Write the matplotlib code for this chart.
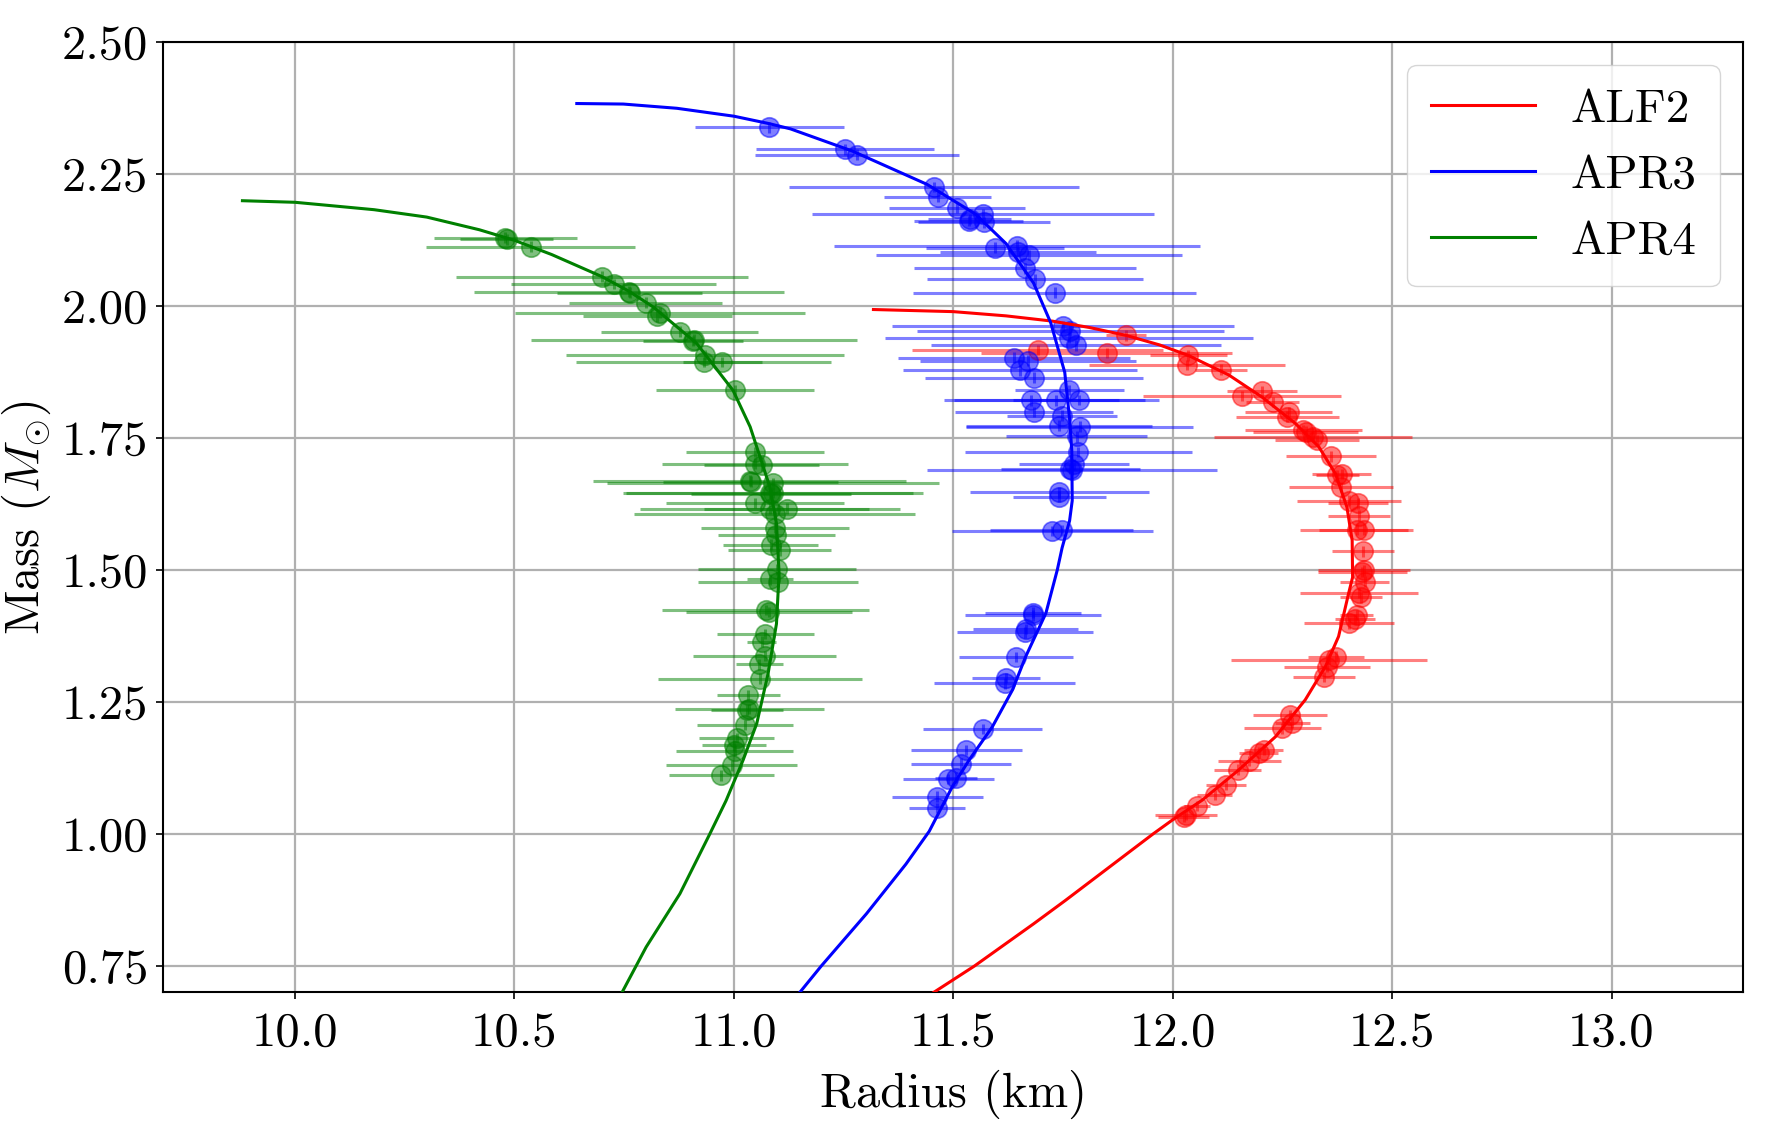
import numpy as np
import matplotlib
matplotlib.use("Agg")
import matplotlib.pyplot as plt

plt.rcParams['font.family'] = 'cmr10'
plt.rcParams['mathtext.fontset'] = 'cm'
plt.rcParams['axes.formatter.use_mathtext'] = True

# mass-radius curves
alf2_r = [11.318, 11.50, 11.62, 11.726, 11.81, 11.894, 11.97, 12.036, 12.128, 12.204, 12.28, 12.333, 12.371,
          12.397, 12.409, 12.410, 12.401, 12.378, 12.348, 12.302, 12.234, 12.150, 12.067, 12.000, 11.955,
          11.855, 11.755, 11.683, 11.548, 11.455]
alf2_m = [1.993, 1.989, 1.981, 1.971, 1.959, 1.944, 1.926, 1.906, 1.869, 1.827, 1.777, 1.733, 1.682,
          1.619, 1.556, 1.486, 1.456, 1.374, 1.317, 1.254, 1.184, 1.121, 1.064, 1.027, 1.000,
          0.937, 0.874, 0.830, 0.750, 0.700]

apr3_r = [10.642, 10.748, 10.870, 11.0, 11.08, 11.129, 11.27, 11.44, 11.55, 11.62, 11.683, 11.722, 11.754,
          11.765, 11.770, 11.771, 11.765, 11.748, 11.737, 11.711, 11.665, 11.635, 11.589, 11.536, 11.498,
          11.445, 11.392, 11.302, 11.226, 11.199, 11.150]
apr3_m = [2.383, 2.382, 2.374, 2.359, 2.345, 2.335, 2.293, 2.230, 2.174, 2.118, 2.043, 1.968, 1.874,
          1.786, 1.726, 1.631, 1.593, 1.542, 1.500, 1.418, 1.336, 1.273, 1.203, 1.140, 1.090,
          1.005, 0.943, 0.849, 0.776, 0.750, 0.700]

apr4_r = [9.88, 10.0, 10.18, 10.30, 10.42, 10.50, 10.585, 10.70, 10.76, 10.816, 10.915, 10.998, 11.037,
          11.082, 11.097, 11.103, 11.097, 11.078, 11.052, 11.021, 10.982, 10.945, 10.877, 10.800, 10.777,
          10.745]
apr4_m = [2.199, 2.196, 2.182, 2.168, 2.144, 2.124, 2.097, 2.055, 2.028, 1.998, 1.929, 1.840, 1.771,
          1.657, 1.588, 1.493, 1.398, 1.304, 1.209, 1.140, 1.063, 1.000, 0.887, 0.786, 0.750,
          0.700]

# simulated measurements (radius, mass, radius error)
alf2_pts = [
    (11.693, 1.916, 0.286), (11.850, 1.911, 0.286), (11.894, 1.944, 0.045), (12.036, 1.906, 0.088),
    (12.033, 1.888, 0.223), (12.110, 1.879, 0.060), (12.158, 1.829, 0.225), (12.204, 1.838, 0.080),
    (12.228, 1.818, 0.060), (12.264, 1.799, 0.099), (12.261, 1.790, 0.117), (12.298, 1.765, 0.133),
    (12.303, 1.762, 0.120), (12.320, 1.752, 0.225), (12.328, 1.746, 0.096), (12.361, 1.715, 0.102),
    (12.385, 1.682, 0.067), (12.375, 1.679, 0.049), (12.383, 1.657, 0.119), (12.402, 1.631, 0.118),
    (12.422, 1.626, 0.069), (12.425, 1.603, 0.070), (12.419, 1.576, 0.128), (12.435, 1.576, 0.101),
    (12.434, 1.535, 0.071), (12.436, 1.499, 0.104), (12.432, 1.496, 0.101), (12.438, 1.478, 0.056),
    (12.424, 1.456, 0.135), (12.430, 1.448, 0.048), (12.419, 1.415, 0.038), (12.416, 1.407, 0.046),
    (12.402, 1.399, 0.102), (12.372, 1.336, 0.063), (12.356, 1.330, 0.223), (12.351, 1.317, 0.098),
    (12.345, 1.297, 0.071), (12.267, 1.225, 0.084), (12.272, 1.211, 0.040), (12.250, 1.200, 0.087),
    (12.207, 1.160, 0.045), (12.196, 1.154, 0.044), (12.175, 1.138, 0.071), (12.148, 1.122, 0.054),
    (12.122, 1.093, 0.045), (12.096, 1.074, 0.040), (12.055, 1.053, 0.030), (12.030, 1.036, 0.070),
    (12.025, 1.033, 0.058),
]

apr3_pts = [
    (11.081, 2.338, 0.169), (11.254, 2.296, 0.203), (11.280, 2.286, 0.232), (11.456, 2.225, 0.330),
    (11.465, 2.206, 0.122), (11.508, 2.185, 0.155), (11.568, 2.174, 0.389), (11.535, 2.161, 0.124),
    (11.537, 2.164, 0.095), (11.570, 2.158, 0.151), (11.595, 2.110, 0.157), (11.645, 2.114, 0.417),
    (11.672, 2.096, 0.349), (11.648, 2.102, 0.178), (11.664, 2.071, 0.253), (11.686, 2.050, 0.246),
    (11.731, 2.025, 0.322), (11.750, 1.961, 0.390), (11.767, 1.953, 0.350), (11.764, 1.940, 0.420),
    (11.780, 1.925, 0.330), (11.638, 1.902, 0.265), (11.670, 1.896, 0.246), (11.652, 1.878, 0.267),
    (11.684, 1.864, 0.248), (11.764, 1.841, 0.124), (11.678, 1.821, 0.200), (11.735, 1.821, 0.233),
    (11.786, 1.822, 0.150), (11.684, 1.799, 0.180), (11.748, 1.792, 0.126), (11.741, 1.773, 0.212),
    (11.788, 1.771, 0.258), (11.781, 1.753, 0.161), (11.785, 1.723, 0.259), (11.775, 1.700, 0.126),
    (11.767, 1.691, 0.159), (11.770, 1.689, 0.330), (11.742, 1.647, 0.205), (11.742, 1.639, 0.107),
    (11.726, 1.574, 0.230), (11.747, 1.575, 0.163), (11.682, 1.419, 0.109), (11.682, 1.414, 0.155),
    (11.665, 1.388, 0.119), (11.664, 1.382, 0.155), (11.643, 1.335, 0.130), (11.620, 1.295, 0.078),
    (11.617, 1.285, 0.160), (11.567, 1.199, 0.136), (11.530, 1.159, 0.127), (11.518, 1.133, 0.114),
    (11.507, 1.107, 0.048), (11.489, 1.104, 0.104), (11.464, 1.071, 0.103), (11.462, 1.049, 0.064),
]

apr4_pts = [
    (10.479, 2.129, 0.163), (10.482, 2.126, 0.106), (10.537, 2.112, 0.238), (10.700, 2.055, 0.333),
    (10.726, 2.041, 0.233), (10.761, 2.027, 0.353), (10.763, 2.025, 0.165), (10.799, 2.006, 0.175),
    (10.831, 1.987, 0.330), (10.825, 1.980, 0.170), (10.877, 1.951, 0.179), (10.909, 1.936, 0.372),
    (10.907, 1.933, 0.114), (10.934, 1.907, 0.316), (10.931, 1.894, 0.290), (10.974, 1.894, 0.090),
    (11.002, 1.840, 0.180), (11.048, 1.723, 0.158), (11.048, 1.701, 0.211), (11.063, 1.698, 0.131),
    (11.036, 1.669, 0.356), (11.038, 1.667, 0.200), (11.089, 1.664, 0.378), (11.089, 1.646, 0.342),
    (11.082, 1.645, 0.327), (11.085, 1.644, 0.183), (11.048, 1.627, 0.203), (11.082, 1.616, 0.297),
    (11.120, 1.616, 0.188), (11.093, 1.605, 0.320), (11.093, 1.580, 0.169), (11.097, 1.566, 0.133),
    (11.084, 1.548, 0.108), (11.104, 1.537, 0.117), (11.098, 1.501, 0.180), (11.082, 1.482, 0.053),
    (11.100, 1.477, 0.182), (11.073, 1.424, 0.236), (11.080, 1.420, 0.190), (11.072, 1.379, 0.110),
    (11.063, 1.364, 0.032), (11.070, 1.337, 0.163), (11.058, 1.321, 0.054), (11.059, 1.294, 0.233),
    (11.033, 1.263, 0.072), (11.035, 1.237, 0.170), (11.030, 1.235, 0.083), (11.025, 1.206, 0.110),
    (11.006, 1.182, 0.085), (11.000, 1.168, 0.073), (11.002, 1.158, 0.133), (10.995, 1.130, 0.149),
    (10.971, 1.111, 0.120),
]

mass_err = 0.01

eos = [
    ("ALF2", "red", alf2_r, alf2_m, alf2_pts),
    ("APR3", "blue", apr3_r, apr3_m, apr3_pts),
    ("APR4", "green", apr4_r, apr4_m, apr4_pts),
]

fig = plt.figure(figsize=(17.67, 11.40), dpi=100)
ax = fig.add_axes([0.0925, 0.1294, 0.894, 0.834])

for name, col, r, m, pts in eos:
    pts = np.array(pts)
    ax.errorbar(pts[:, 0], pts[:, 1], xerr=pts[:, 2], yerr=mass_err, fmt='o', color=col,
                alpha=0.5, ms=14, mew=1.2, elinewidth=2.2, zorder=2)
    ax.plot(r, m, color=col, lw=2.2, label=name, zorder=3)

ax.set_xlim(9.7, 13.3)
ax.set_ylim(0.7, 2.5)
ax.set_xticks([10.0, 10.5, 11.0, 11.5, 12.0, 12.5, 13.0])
ax.set_yticks([0.75, 1.0, 1.25, 1.5, 1.75, 2.0, 2.25, 2.5])
ax.set_xticklabels(["%.1f" % t for t in ax.get_xticks()])
ax.set_yticklabels(["%.2f" % t for t in ax.get_yticks()])
ax.tick_params(labelsize=35, length=5, width=1.2)
ax.tick_params(axis='x', pad=9)
ax.tick_params(axis='y', pad=6)
ax.grid(True, color='#b0b0b0', lw=1.6)
ax.set_axisbelow(True)
for s in ax.spines.values():
    s.set_linewidth(1.5)

ax.set_xlabel("Radius (km)", fontsize=35, labelpad=10)
ax.set_ylabel(r"Mass ($M_{\odot}$)", fontsize=35, labelpad=6)

ax.legend(loc='upper right', fontsize=34, handlelength=2.2, handletextpad=0.75,
          borderpad=0.5, labelspacing=0.5, framealpha=0.8, edgecolor='#cccccc')

fig.savefig("out.png", dpi=100)
